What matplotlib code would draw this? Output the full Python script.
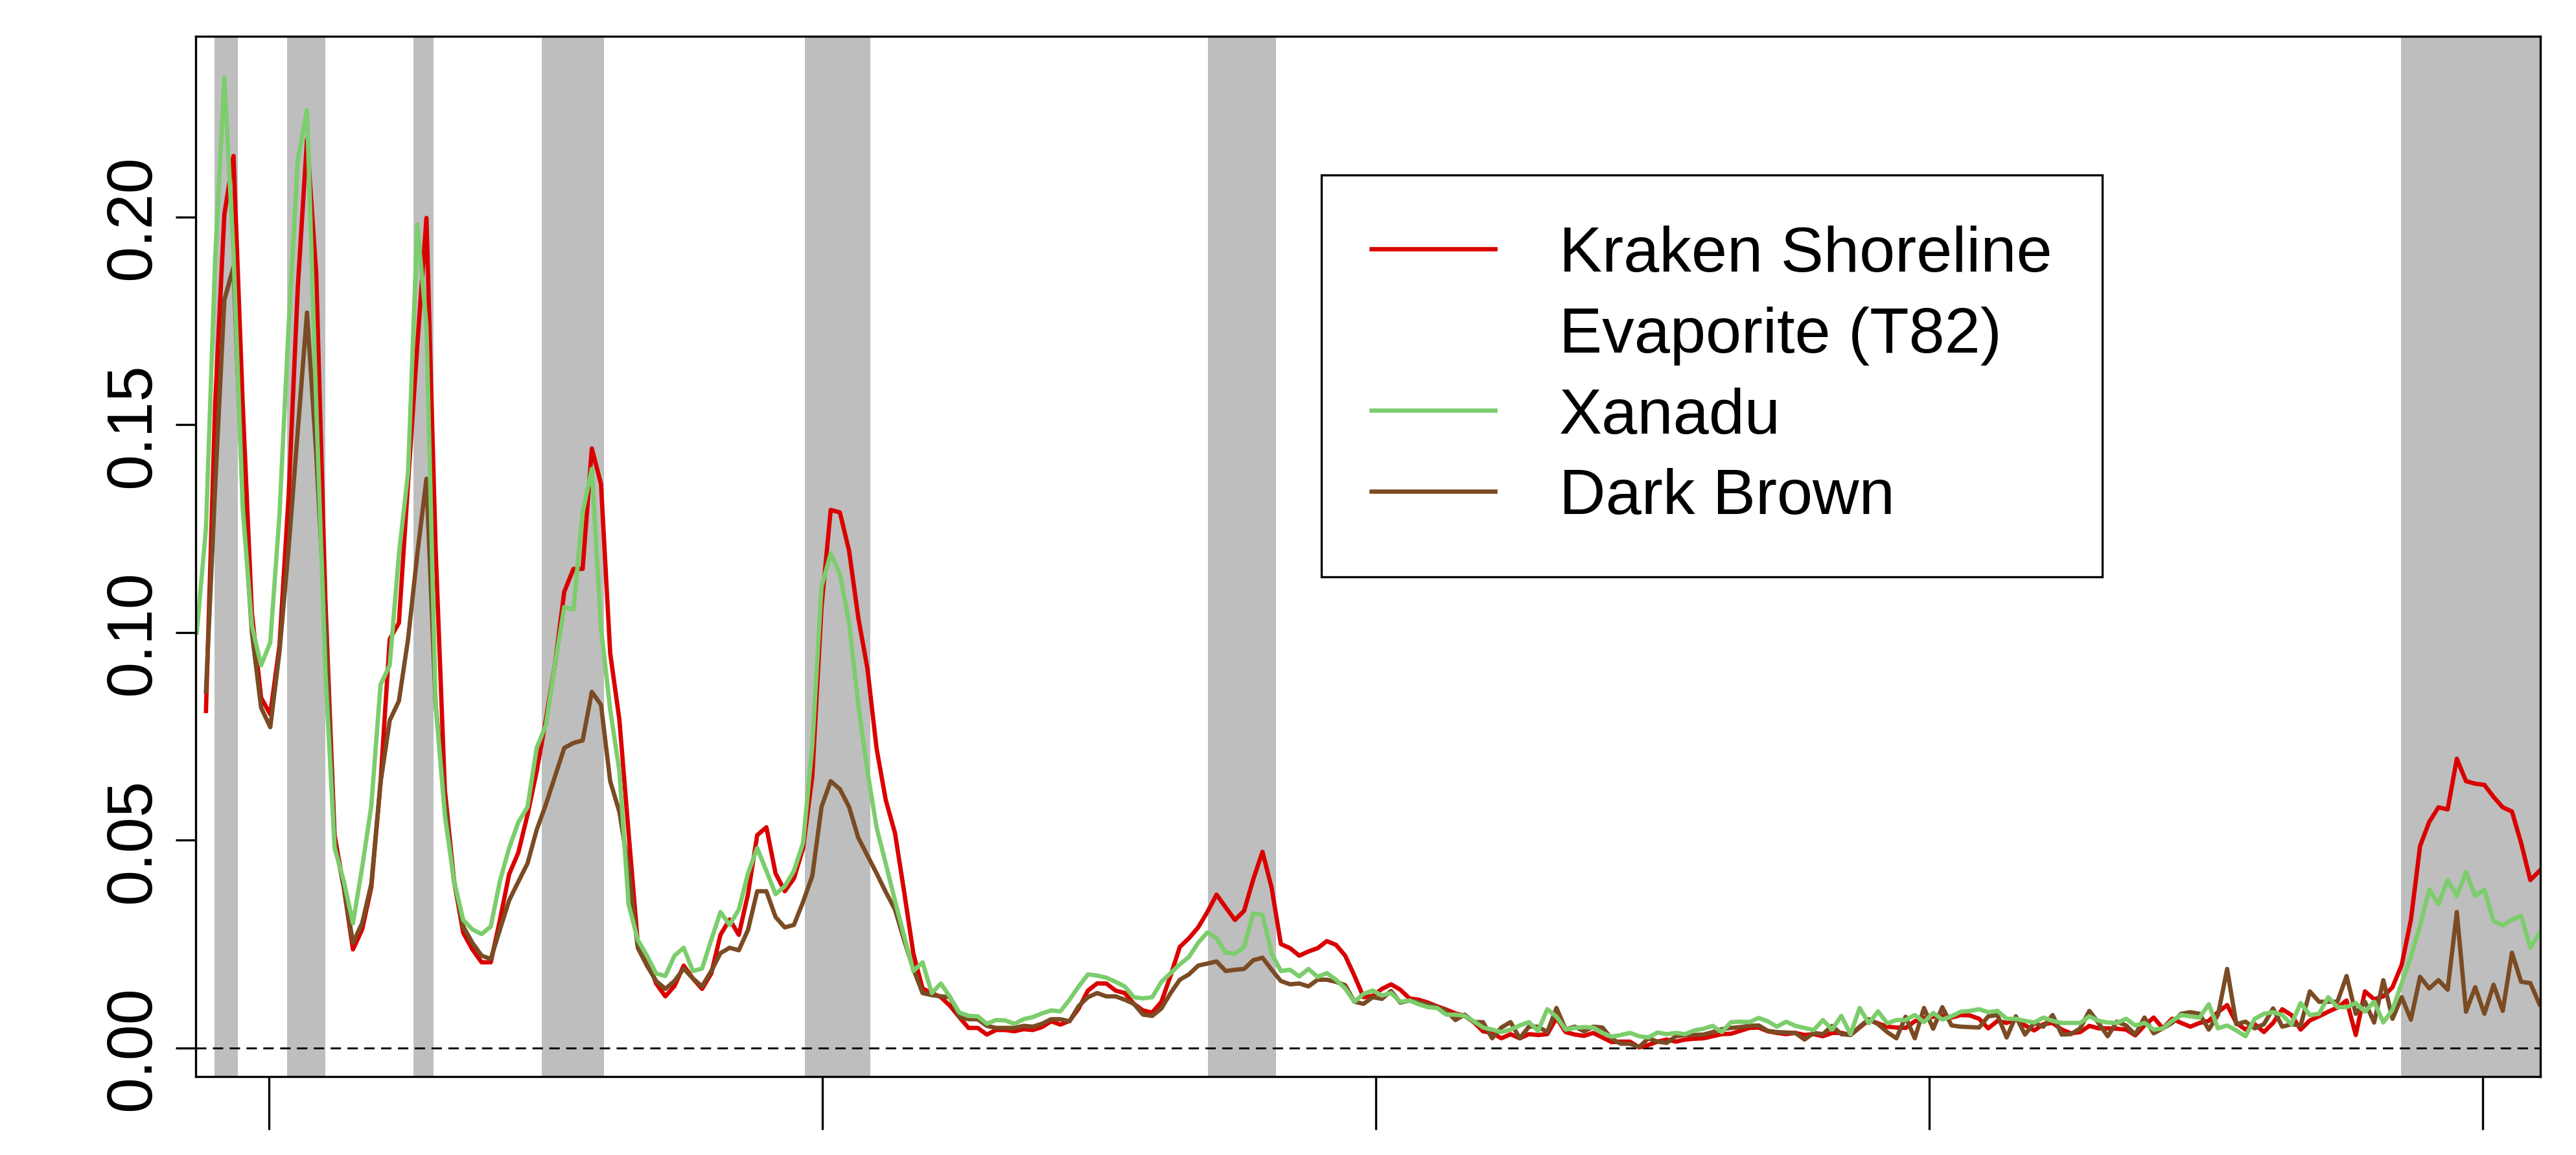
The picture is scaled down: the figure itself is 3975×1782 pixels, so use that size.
import numpy as np
import matplotlib
matplotlib.use("Agg")
import matplotlib.pyplot as plt
from matplotlib.lines import Line2D

nan = np.nan

# VIMS IR channel centres (micron)
wavelength = np.linspace(0.8695, 5.1025, 256)

kraken = [
    nan, 0.0811, 0.155, 0.2006, 0.2147, 0.155, 0.1047, 0.0843, 0.0803, 0.0968,
    0.133, 0.1833, 0.2187, 0.1864, 0.1078, 0.0512, 0.0387, 0.0237, 0.0285, 0.0387,
    0.0638, 0.0984, 0.1023, 0.136, 0.169, 0.1998, 0.120, 0.0622, 0.0403, 0.0277,
    0.0237, 0.0206, 0.0206, 0.0308, 0.0418, 0.047, 0.0561, 0.0666, 0.079, 0.0925,
    0.1098, 0.1153, 0.1153, 0.1443, 0.1357, 0.095, 0.079, 0.0518, 0.0253, 0.0216,
    0.0155, 0.0124, 0.0149, 0.0198, 0.0167, 0.0142, 0.0179, 0.0272, 0.0309, 0.0272,
    0.037, 0.0512, 0.0531, 0.042, 0.0377, 0.0408, 0.0481, 0.0654, 0.1061, 0.1295,
    0.1289, 0.1197, 0.1036, 0.0913, 0.072, 0.0596, 0.0517, 0.0375, 0.0227, 0.0143,
    0.0132, 0.0122, 0.0101, 0.0074, 0.0048, 0.0048, 0.0032, 0.0043, 0.0043, 0.004,
    0.0045, 0.0043, 0.005, 0.0064, 0.0056, 0.0065, 0.0095, 0.0138, 0.0155, 0.0155,
    0.0138, 0.0132, 0.0106, 0.009, 0.0085, 0.0111, 0.0174, 0.0243, 0.0264, 0.029,
    0.0327, 0.0369, 0.0338, 0.0308, 0.033, 0.0406, 0.0472, 0.0385, 0.025, 0.024,
    0.0222, 0.0232, 0.024, 0.0257, 0.0248, 0.0222, 0.0174, 0.0122, 0.0125, 0.0142,
    0.0153, 0.014, 0.0119, 0.0116, 0.0109, 0.010, 0.0092, 0.0083, 0.0077, 0.0062,
    0.004, 0.0036, 0.0023, 0.0033, 0.0023, 0.0033, 0.0031, 0.0033, 0.0072, 0.0038,
    0.0032, 0.0029, 0.0036, 0.0025, 0.0014, 0.0015, 0.0015, 0.0001, 0.0007, 0.0015,
    0.002, 0.0015, 0.002, 0.0022, 0.0023, 0.0028, 0.0033, 0.0034, 0.0041, 0.0048,
    0.0049, 0.004, 0.0036, 0.0033, 0.0036, 0.0031, 0.0033, 0.0028, 0.0036, 0.0036,
    0.0031, 0.0049, 0.0067, 0.0059, 0.0051, 0.0049, 0.0048, 0.0064, 0.0072, 0.0075,
    0.0078, 0.0073, 0.0079, 0.0078, 0.007, 0.0047, 0.0065, 0.006, 0.007, 0.0054,
    0.0042, 0.0057, 0.006, 0.0044, 0.0035, 0.0038, 0.0053, 0.0047, 0.0047, 0.0046,
    0.0044, 0.003, 0.0054, 0.0073, 0.0047, 0.007, 0.006, 0.0051, 0.006, 0.0065,
    0.0086, 0.0103, 0.006, 0.0044, 0.0057, 0.0038, 0.006, 0.0093, 0.0079, 0.0044,
    0.0066, 0.0076, 0.0087, 0.0097, 0.0114, 0.0031, 0.0136, 0.0117, 0.0124, 0.0146,
    0.020, 0.0308, 0.0486, 0.0544, 0.0579, 0.0574, 0.0696, 0.0642, 0.0636, 0.0633,
    0.0604, 0.0579, 0.0569, 0.0493, 0.0404, 0.0426,
]

xanadu = [
    0.100, 0.125, 0.19, 0.2336, 0.1912, 0.1298, 0.1016, 0.0921, 0.0976, 0.1283,
    0.1739, 0.2139, 0.2257, 0.155, 0.0905, 0.0481, 0.0402, 0.030, 0.0434, 0.0583,
    0.0874, 0.0921, 0.1188, 0.1385, 0.1982, 0.1739, 0.0827, 0.056, 0.0402, 0.0308,
    0.0285, 0.0274, 0.0292, 0.0402, 0.0481, 0.0543, 0.058, 0.0722, 0.0777, 0.0925,
    0.1061, 0.1055, 0.1289, 0.1394, 0.1011, 0.0814, 0.0666, 0.0346, 0.026, 0.0222,
    0.0179, 0.0173, 0.0222, 0.0241, 0.0185, 0.0191, 0.026, 0.0327, 0.0296, 0.0333,
    0.042, 0.0481, 0.0426, 0.037, 0.0389, 0.0426, 0.0494, 0.0728, 0.111, 0.119,
    0.1141, 0.1024, 0.0827, 0.0666, 0.053, 0.0443, 0.0354, 0.0269, 0.0185, 0.0206,
    0.0132, 0.0155, 0.0122, 0.0085, 0.0077, 0.0076, 0.0058, 0.0067, 0.0066, 0.0058,
    0.0069, 0.0074, 0.0083, 0.009, 0.0088, 0.0116, 0.0148, 0.0177, 0.0174, 0.0169,
    0.0159, 0.0148, 0.0122, 0.0119, 0.0122, 0.0159, 0.018, 0.0201, 0.0219, 0.0253,
    0.0278, 0.0264, 0.0229, 0.0227, 0.0243, 0.0324, 0.032, 0.0227, 0.0185, 0.0188,
    0.0172, 0.019, 0.0171, 0.018, 0.0164, 0.0143, 0.0111, 0.013, 0.0138, 0.0126,
    0.0132, 0.0111, 0.0114, 0.0105, 0.0098, 0.0096, 0.008, 0.008, 0.0077, 0.0064,
    0.0049, 0.0044, 0.0038, 0.0044, 0.0054, 0.0062, 0.0041, 0.0093, 0.0075, 0.0044,
    0.0048, 0.005, 0.0049, 0.0036, 0.0027, 0.0031, 0.0036, 0.0028, 0.0025, 0.0037,
    0.0033, 0.0036, 0.0033, 0.0042, 0.0046, 0.0053, 0.0038, 0.0062, 0.0063, 0.0062,
    0.0072, 0.0064, 0.0051, 0.0063, 0.0053, 0.0048, 0.0043, 0.0067, 0.0044, 0.0077,
    0.0033, 0.0096, 0.0059, 0.0088, 0.0059, 0.0067, 0.0067, 0.0079, 0.0062, 0.0084,
    0.0068, 0.0076, 0.0087, 0.0089, 0.0093, 0.0086, 0.0089, 0.007, 0.007, 0.0065,
    0.0061, 0.0073, 0.0065, 0.006, 0.006, 0.006, 0.0076, 0.0065, 0.0061, 0.006,
    0.007, 0.0054, 0.006, 0.0044, 0.0047, 0.0065, 0.0079, 0.0076, 0.0073, 0.0105,
    0.0047, 0.0054, 0.0042, 0.0028, 0.007, 0.0082, 0.0086, 0.0079, 0.0057, 0.0108,
    0.0079, 0.0082, 0.0122, 0.0098, 0.0098, 0.0108, 0.0087, 0.0111, 0.0061, 0.0092,
    0.0156, 0.0219, 0.0295, 0.0381, 0.0346, 0.0404, 0.0366, 0.0423, 0.0366, 0.0381,
    0.0305, 0.0295, 0.0308, 0.0318, 0.0241, 0.0276,
]

dark_brown = [
    nan, 0.0858, 0.135, 0.180, 0.188, 0.133, 0.100, 0.0819, 0.0772, 0.0953,
    0.1204, 0.1487, 0.177, 0.143, 0.1016, 0.0497, 0.0387, 0.0253, 0.030, 0.0395,
    0.0638, 0.0788, 0.0835, 0.0984, 0.1188, 0.137, 0.0827, 0.0591, 0.0402, 0.0292,
    0.0253, 0.0222, 0.0214, 0.0285, 0.0355, 0.040, 0.0444, 0.0525, 0.0586, 0.0654,
    0.0722, 0.0734, 0.074, 0.0857, 0.0826, 0.0642, 0.0568, 0.0432, 0.0241, 0.0198,
    0.0161, 0.0142, 0.0161, 0.0191, 0.0167, 0.0148, 0.0185, 0.0228, 0.0241, 0.0235,
    0.0284, 0.0377, 0.0377, 0.0315, 0.029, 0.0296, 0.0352, 0.0414, 0.058, 0.0642,
    0.0623, 0.058, 0.0506, 0.0463, 0.042, 0.0375, 0.0333, 0.0259, 0.019, 0.0132,
    0.0127, 0.0124, 0.0122, 0.0074, 0.0069, 0.0069, 0.0053, 0.0048, 0.0048, 0.0048,
    0.0053, 0.0051, 0.0058, 0.0069, 0.0069, 0.0064, 0.0101, 0.0122, 0.0132, 0.0124,
    0.0124, 0.0116, 0.0106, 0.008, 0.0077, 0.0095, 0.0132, 0.0164, 0.0177, 0.0198,
    0.0203, 0.0208, 0.0185, 0.0188, 0.019, 0.0211, 0.0217, 0.0188, 0.0161, 0.0153,
    0.0155, 0.0148, 0.0164, 0.0164, 0.0159, 0.0151, 0.0111, 0.0106, 0.0122, 0.0118,
    0.0137, 0.0109, 0.0114, 0.011, 0.0105, 0.0098, 0.0089, 0.0067, 0.008, 0.0062,
    0.0062, 0.0023, 0.0049, 0.0062, 0.0023, 0.0051, 0.0051, 0.0038, 0.0096, 0.0044,
    0.0051, 0.004, 0.0051, 0.0049, 0.0022, 0.001, 0.001, 0.0002, 0.0023, 0.0015,
    0.0012, 0.0028, 0.0031, 0.0031, 0.0032, 0.0038, 0.0045, 0.0048, 0.005, 0.0053,
    0.0054, 0.0041, 0.0038, 0.0037, 0.0036, 0.002, 0.0036, 0.0033, 0.0053, 0.0033,
    0.0031, 0.0051, 0.0069, 0.0057, 0.0038, 0.0023, 0.0075, 0.0023, 0.0096, 0.0046,
    0.0098, 0.0054, 0.0051, 0.005, 0.0049, 0.0076, 0.0079, 0.0025, 0.0076, 0.0032,
    0.006, 0.0051, 0.0079, 0.0032, 0.0033, 0.0047, 0.0089, 0.006, 0.0028, 0.0063,
    0.0054, 0.0032, 0.0073, 0.0035, 0.0047, 0.006, 0.0082, 0.0086, 0.0082, 0.0044,
    0.0079, 0.019, 0.0057, 0.0063, 0.0047, 0.0057, 0.0095, 0.0051, 0.0057, 0.0054,
    0.0136, 0.0111, 0.0111, 0.0111, 0.0173, 0.0082, 0.0111, 0.0061, 0.0163, 0.007,
    0.0122, 0.0068, 0.0171, 0.0143, 0.0163, 0.014, 0.0327, 0.0087, 0.0146, 0.0082,
    0.0152, 0.0089, 0.0229, 0.0159, 0.0156, 0.0105,
]

# methane windows (micron)
windows = [(0.9016, 0.9432), (1.0324, 1.1015), (1.2615, 1.2978), (1.4923, 1.6051),
           (1.9687, 2.0871), (2.6963, 2.8194), (4.8527, 5.3)]

x_ticks = [1, 2, 3, 4, 5]
y_ticks = [0.00, 0.05, 0.10, 0.15, 0.20]
y_tick_labels = ["0.00", "0.05", "0.10", "0.15", "0.20"]

legend_labels = ["Kraken Shoreline", "Evaporite (T82)", "Xanadu", "Dark Brown"]

red = "#DA0000"
green = "#7CCD6C"
brown = "#7B4B24"
lw = 1.6

plt.rcParams["font.family"] = ["Liberation Sans", "DejaVu Sans"]

fig = plt.figure(figsize=(13.25, 5.9433), dpi=300)
ax = fig.add_axes([0.0760, 0.0679, 0.9102, 0.9001])

for lo, hi in windows:
    ax.axvspan(lo, hi, color="#BEBEBE", lw=0, zorder=0.5)

ax.axhline(0, color="black", lw=0.7, linestyle=(0, (5.5, 3.4)), zorder=1)

ax.plot(wavelength, kraken, color=red, lw=lw, zorder=2)
ax.plot(wavelength, dark_brown, color=brown, lw=lw, zorder=2)
ax.plot(wavelength, xanadu, color=green, lw=lw, zorder=2)

ax.set_xlim(0.8677, 5.1042)
ax.set_ylim(-0.0069, 0.2435)

ax.set_xticks(x_ticks)
ax.set_xticklabels([])
ax.set_yticks(y_ticks)
ax.set_yticklabels(y_tick_labels, rotation=90, va="center")
ax.tick_params(axis="x", length=19.7, width=0.8, direction="out")
ax.tick_params(axis="y", length=7.4, width=0.8, direction="out", pad=4.8, labelsize=23.8)
for s in ax.spines.values():
    s.set_linewidth(0.8)

handles = [
    Line2D([], [], color=red, lw=lw),
    Line2D([], [], color="none", lw=lw),
    Line2D([], [], color=green, lw=lw),
    Line2D([], [], color=brown, lw=lw),
]
leg = ax.legend(handles, legend_labels, loc="upper left",
                bbox_to_anchor=(2039 / 3975, 1 - 271 / 1783),
                bbox_transform=fig.transFigure, borderaxespad=0,
                fontsize=23.8, handlelength=1.92, handletextpad=1.0,
                borderpad=0.78, labelspacing=0.34, fancybox=False,
                framealpha=1, edgecolor="black")
leg.get_frame().set_linewidth(0.8)

fig.savefig("out.png", dpi=300)
